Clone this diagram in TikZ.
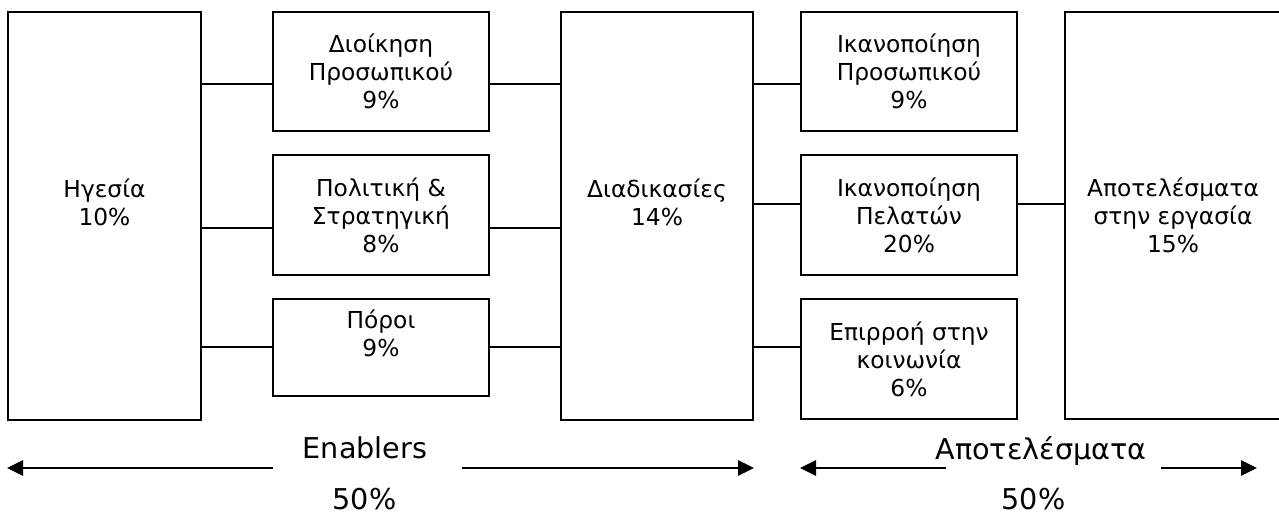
\documentclass[tikz,border=0pt]{standalone}
\usepackage{fontspec}
\setmainfont{DejaVu Sans}
\usepackage{tikz}
\usetikzlibrary{arrows.meta,positioning}

\tikzset{
	bloc/.style={draw,line width=1.5pt,align=center,inner sep=0pt,
		font=\fontsize{17.5}{21}\selectfont},
	lien/.style={line width=1.5pt},
	fleche/.style={line width=1.5pt,-{Triangle[length=12pt,width=11.5pt]}},
	legende/.style={inner sep=0pt,anchor=base,font=\fontsize{21.5}{26}\selectfont}
}

\begin{document}
\begin{tikzpicture}[x=0.75pt,y=-0.75pt]
	\useasboundingbox (0,0) rectangle (1279,514);
	%% grandes colonnes
	\node[bloc,minimum width=144.75pt,minimum height=306pt] (lead) at (104.5,216) {Ηγεσία\\10\%\\\mbox{}};
	\node[bloc,minimum width=144pt,minimum height=306pt] (proc) at (657,216) {Διαδικασίες\\14\%\\\mbox{}};
	\node[bloc,minimum width=162pt,minimum height=305.25pt] (res) at (1173,215.5) {Αποτελέσματα\\στην εργασία\\15\%};
	
	%% enablers
	\node[bloc,minimum width=162pt,minimum height=89.25pt] (b1) at (381,71.5) {Διοίκηση\\Προσωπικού\\9\%};
	\node[bloc,minimum width=162pt,minimum height=90pt] (b2) at (381,215) {Πολιτική \&\\Στρατηγική\\8\%};
	\node[bloc,minimum width=162pt,minimum height=72.75pt] (b3) at (381,347.5) {Πόροι\\9\%\\\mbox{}};
	
	%% resultats
	\node[bloc,minimum width=162pt,minimum height=89.25pt] (r1) at (909,71.5) {Ικανοποίηση\\Προσωπικού\\9\%};
	\node[bloc,minimum width=162pt,minimum height=90pt] (r2) at (909,215) {Ικανοποίηση\\Πελατών\\20\%};
	\node[bloc,minimum width=162pt,minimum height=90pt] (r3) at (909,359) {Επιρροή στην\\κοινωνία\\6\%};
	
	%% hauteurs des liaisons
	\coordinate (h1) at (0,84);
	\coordinate (h2) at (0,228);
	\coordinate (h3) at (0,347);
	\coordinate (h4) at (0,204);
	\draw[lien] (lead.east |- h1) -- (b1.west |- h1);
	\draw[lien] (lead.east |- h2) -- (b2.west |- h2);
	\draw[lien] (lead.east |- h3) -- (b3.west |- h3);
	\draw[lien] (b1.east |- h1) -- (proc.west |- h1);
	\draw[lien] (b2.east |- h2) -- (proc.west |- h2);
	\draw[lien] (b3.east |- h3) -- (proc.west |- h3);
	\draw[lien] (proc.east |- h1) -- (r1.west |- h1);
	\draw[lien] (proc.east |- h4) -- (r2.west |- h4);
	\draw[lien] (proc.east |- h3) -- (r3.west |- h3);
	\draw[lien] (r2.east |- h4) -- (res.west |- h4);
	
	%% legendes du bas
	\node[legende] (en) at (365,458) {Enablers};
	\node[legende] (enp) at (364.5,509) {50\%};
	\node[legende] (ap) at (1041,459) {Αποτελέσματα};
	\node[legende] (app) at (1033.5,509) {50\%};
	\coordinate (a1) at (273,468);
	\coordinate (a2) at (462,468);
	\coordinate (a3) at (946,468);
	\coordinate (a4) at (1161,468);
	\coordinate (t4) at (1257,468);
	\draw[fleche] (a1) -- (lead.west |- a1);
	\draw[fleche] (a2) -- (proc.east |- a2);
	\draw[fleche] (a3) -- (r1.west |- a3);
	\draw[fleche] (a4) -- (t4);
\end{tikzpicture}
\end{document}
